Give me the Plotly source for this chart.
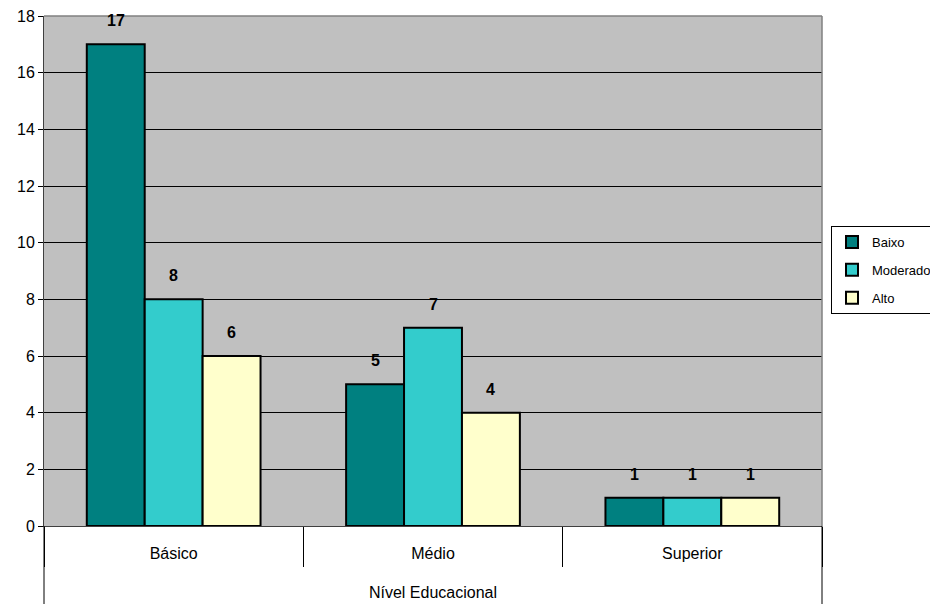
import plotly.graph_objects as go

categories = ["Básico", "Médio", "Superior"]
series_names = ["Baixo", "Moderado", "Alto"]
baixo = [17, 5, 1]
moderado = [8, 7, 1]
alto = [6, 4, 1]
colors = ["#008080", "#33CCCC", "#FFFFCC"]
y_ticks = list(range(0, 19, 2))

FONT = "Liberation Sans, Arial, sans-serif"
series_vals = [baixo, moderado, alto]
BARGAP = 0.33

fig = go.Figure()
for i, (name, vals, col) in enumerate(zip(series_names, series_vals, colors)):
    fig.add_trace(go.Bar(
        name=name, x=categories, y=vals, offsetgroup=str(i), legendgroup=name,
        marker=dict(color=col, line=dict(color="black", width=2)),
    ))

# value labels above bars (positioned via data coords + pixel shift)
n = len(series_names)
for i, vals in enumerate(series_vals):
    for j, v in enumerate(vals):
        fig.add_annotation(
            x=j + (i - (n - 1) / 2) * (1 - BARGAP) / n, y=v, xref="x", yref="y",
            text="<b>%d</b>" % v, showarrow=False, yanchor="bottom", yshift=13,
            font=dict(family=FONT, size=16, color="black"),
        )

# page body adds an 8px offset, so figure is 930x596 with reduced left/top margins
fig.update_layout(
    width=930, height=596,
    margin=dict(l=36, r=116, t=8, b=78, autoexpand=False),
    paper_bgcolor="white", plot_bgcolor="#C0C0C0",
    barmode="group", bargap=BARGAP, bargroupgap=0,
    font=dict(family=FONT, size=16, color="black"),
    legend=dict(xref="container", yref="container",
                x=(831 - 8) / 930, y=1 - (226 - 8) / 596,
                xanchor="left", yanchor="top",
                bordercolor="black", borderwidth=1, bgcolor="white",
                font=dict(family=FONT, size=13), tracegroupgap=8,
                traceorder="grouped", itemwidth=30),
    showlegend=True,
)
fig.update_xaxes(
    type="category", showgrid=False, ticks="outside", tickson="boundaries",
    ticklen=40, tickcolor="black", tickwidth=1, automargin=False,
    showline=True, linecolor="#404040", linewidth=1,
    title=dict(text="Nível Educacional", font=dict(family=FONT, size=16), standoff=25),
    tickfont=dict(family=FONT, size=16), ticklabelstandoff=13,
)
fig.update_yaxes(
    range=[0, 18], tickvals=y_ticks, ticks="outside", ticklen=5, automargin=False,
    tickcolor="black", showgrid=True, gridcolor="black", gridwidth=1,
    showline=True, linecolor="#404040", linewidth=1, zeroline=False,
    tickfont=dict(family=FONT, size=16), ticklabeloverflow="allow",
)
# long left and right boundary lines of the category table, top/right plot border
fig.add_shape(type="line", xref="paper", yref="paper", x0=0, x1=0, y0=0, y1=-78 / 510,
              line=dict(color="black", width=1))
fig.add_shape(type="line", xref="paper", yref="paper", x0=1, x1=1, y0=0, y1=-78 / 510,
              line=dict(color="black", width=1))
fig.add_shape(type="line", xref="paper", yref="paper", x0=0, x1=1, y0=1, y1=1,
              line=dict(color="#808080", width=1.5))
fig.add_shape(type="line", xref="paper", yref="paper", x0=1, x1=1, y0=0, y1=1,
              line=dict(color="#808080", width=1.5))

fig.write_html("out.html")
